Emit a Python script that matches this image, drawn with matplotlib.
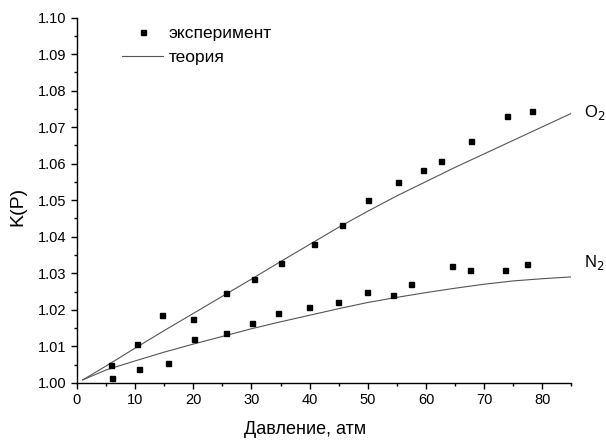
import numpy as np
import matplotlib.pyplot as plt
from matplotlib.ticker import MultipleLocator, FormatStrFormatter

plt.rcParams['font.family'] = ['Liberation Sans', 'DejaVu Sans']

# Experimental points, O2
o2_p = [5.9, 10.3, 14.7, 20.0, 25.6, 30.4, 35.1, 40.7, 45.5, 50.1, 55.2, 59.5, 62.6, 67.7, 74.0, 78.3]
o2_k = [1.0049, 1.0106, 1.0186, 1.0176, 1.0245, 1.0283, 1.0327, 1.0380, 1.0431, 1.0500, 1.0549,
        1.0584, 1.0607, 1.0661, 1.0731, 1.0744]

# Experimental points, N2
n2_p = [6.1, 10.7, 15.7, 20.2, 25.6, 30.1, 34.6, 39.9, 44.8, 49.8, 54.3, 57.5, 64.5, 67.6, 73.6, 77.3]
n2_k = [1.0014, 1.0038, 1.0053, 1.0121, 1.0137, 1.0165, 1.0190, 1.0207, 1.0220, 1.0248, 1.0240,
        1.0270, 1.0319, 1.0309, 1.0310, 1.0324]

# Theory curves
th_p = [1, 5, 10, 15, 20, 25, 30, 35, 40, 45, 50, 55, 60, 65, 70, 75, 80, 85]
th_o2 = [1.0008, 1.0046, 1.0095, 1.0143, 1.0190, 1.0237, 1.0284, 1.0332, 1.0379, 1.0426, 1.0470,
         1.0512, 1.0551, 1.0590, 1.0627, 1.0664, 1.0701, 1.0738]
th_n2 = [1.0008, 1.0035, 1.0060, 1.0084, 1.0106, 1.0127, 1.0148, 1.0167, 1.0185, 1.0203, 1.0220,
         1.0234, 1.0247, 1.0259, 1.0270, 1.0279, 1.0285, 1.0290]

fig = plt.figure(figsize=(6.06, 4.41), dpi=100)
ax = fig.add_axes([0.127, 0.132, 0.816, 0.828])

line_col = '#555555'
ax.plot(th_p, th_o2, color=line_col, lw=0.8, label='теория')
ax.plot(th_p, th_n2, color=line_col, lw=0.8)
ax.plot(o2_p, o2_k, 's', color='black', ms=3.6, label='эксперимент')
ax.plot(n2_p, n2_k, 's', color='black', ms=3.6)

ax.set_xlim(0, 85)
ax.set_ylim(1.0, 1.10)

ax.spines['top'].set_visible(False)
ax.spines['right'].set_visible(False)
ax.spines['left'].set_linewidth(1.0)
ax.spines['bottom'].set_linewidth(1.0)

ax.xaxis.set_major_locator(MultipleLocator(10))
ax.xaxis.set_minor_locator(MultipleLocator(5))
ax.yaxis.set_major_locator(MultipleLocator(0.01))
ax.yaxis.set_minor_locator(MultipleLocator(0.005))
ax.yaxis.set_major_formatter(FormatStrFormatter('%.2f'))
ax.tick_params(which='major', direction='out', length=4.5, width=1.0, labelsize=10.5, pad=3)
ax.tick_params(which='minor', direction='out', length=2.5, width=1.0)

ax.set_xlabel('Давление, атм', fontsize=13)
ax.xaxis.set_label_coords(0.461, -0.105)
ax.set_ylabel('K(P)', fontsize=14)
ax.yaxis.set_label_coords(-0.119, 0.484)
ax.yaxis.label.set_verticalalignment('center')

ax.text(87.2, 1.0740, 'O$_2$', fontsize=12, va='center', ha='left', clip_on=False)
ax.text(87.2, 1.0330, 'N$_2$', fontsize=12, va='center', ha='left', clip_on=False)

handles, labels = ax.get_legend_handles_labels()
ax.legend([handles[1], handles[0]], [labels[1], labels[0]], frameon=False,
          loc='upper left', bbox_to_anchor=(0.059, 1.02), fontsize=12.5,
          handlelength=2.4, handletextpad=0.3, labelspacing=0.5)

fig.savefig('out.png', dpi=100)
